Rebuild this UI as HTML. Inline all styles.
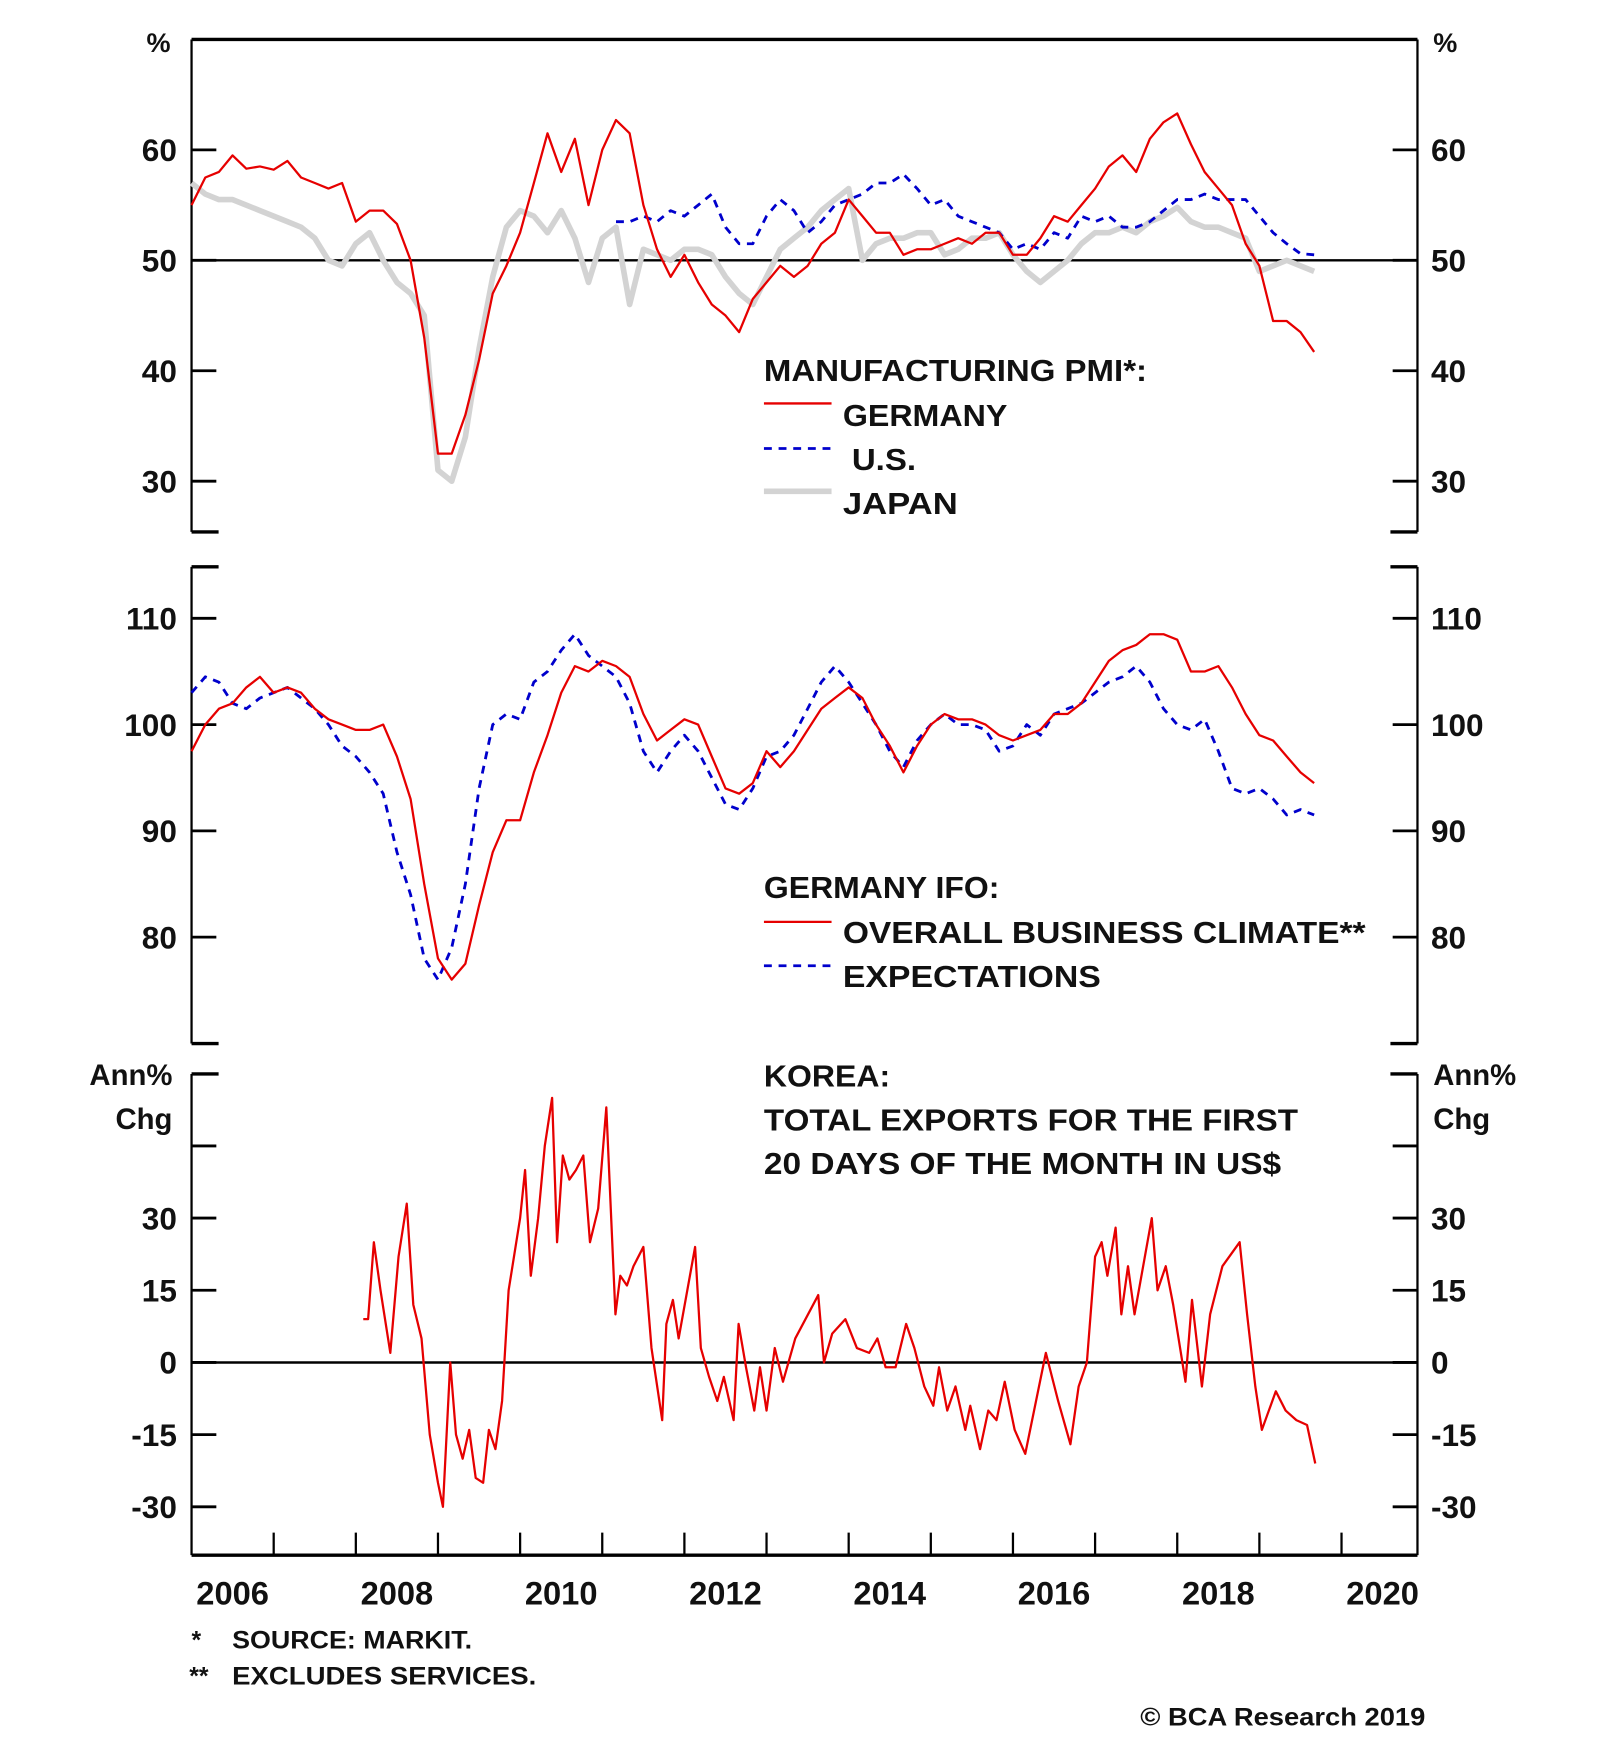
<!DOCTYPE html>
<html><head><meta charset="utf-8"><style>
html,body{margin:0;padding:0;background:#fff;}
svg{display:block;}
text{font-family:"Liberation Sans",Arial,sans-serif;font-weight:bold;fill:#111;}
</style></head><body>
<svg id="chart" width="1600" height="1758" viewBox="0 0 1420 1560" preserveAspectRatio="none" xmlns="http://www.w3.org/2000/svg">
<g id="frame" stroke="#000" fill="none">
  <line x1="170" y1="35" x2="1258" y2="35" stroke-width="3"/>
  <line x1="170" y1="35" x2="170" y2="472" stroke-width="2"/>
  <line x1="1258" y1="35" x2="1258" y2="472" stroke-width="2"/>
  <line x1="170" y1="472" x2="194" y2="472" stroke-width="3"/>
  <line x1="1234" y1="472" x2="1258" y2="472" stroke-width="3"/>
  <line x1="170" y1="503" x2="194" y2="503" stroke-width="3"/>
  <line x1="1234" y1="503" x2="1258" y2="503" stroke-width="3"/>
  <line x1="170" y1="503" x2="170" y2="926" stroke-width="2"/>
  <line x1="1258" y1="503" x2="1258" y2="926" stroke-width="2"/>
  <line x1="170" y1="926" x2="194" y2="926" stroke-width="3"/>
  <line x1="1234" y1="926" x2="1258" y2="926" stroke-width="3"/>
  <line x1="170" y1="953" x2="194" y2="953" stroke-width="3"/>
  <line x1="1234" y1="953" x2="1258" y2="953" stroke-width="3"/>
  <line x1="170" y1="953" x2="170" y2="1380" stroke-width="2"/>
  <line x1="1258" y1="953" x2="1258" y2="1380" stroke-width="2"/>
  <line x1="170" y1="1380" x2="1258" y2="1380" stroke-width="3"/>
</g>
<g id="axes"></g>
<g id="series"></g>

<text x="130" y="46" font-size="24">%</text>
<text x="1272" y="46" font-size="24">%</text>
<text x="153" y="963" font-size="26" text-anchor="end">Ann%</text>
<text x="153" y="1002" font-size="26" text-anchor="end">Chg</text>
<text x="1272" y="963" font-size="26">Ann%</text>
<text x="1272" y="1002" font-size="26">Chg</text>

<g font-size="27">
  <text x="678" y="338" textLength="340" lengthAdjust="spacingAndGlyphs">MANUFACTURING PMI*:</text>
  <line x1="678" y1="358" x2="738" y2="358" stroke="#e60000" stroke-width="2"/>
  <text x="748" y="378" textLength="146" lengthAdjust="spacingAndGlyphs">GERMANY</text>
  <line x1="678" y1="398" x2="738" y2="398" stroke="#0000cc" stroke-width="2.5" stroke-dasharray="7,6"/>
  <text x="756" y="417" textLength="57" lengthAdjust="spacingAndGlyphs">U.S.</text>
  <line x1="678" y1="436" x2="738" y2="436" stroke="#d3d3d3" stroke-width="5"/>
  <text x="748" y="456" textLength="102" lengthAdjust="spacingAndGlyphs">JAPAN</text>
</g>
<g font-size="27">
  <text x="678" y="797" textLength="209" lengthAdjust="spacingAndGlyphs">GERMANY IFO:</text>
  <line x1="678" y1="818" x2="738" y2="818" stroke="#e60000" stroke-width="2"/>
  <text x="748" y="837" textLength="464" lengthAdjust="spacingAndGlyphs">OVERALL BUSINESS CLIMATE**</text>
  <line x1="678" y1="857" x2="738" y2="857" stroke="#0000cc" stroke-width="2.5" stroke-dasharray="7,6"/>
  <text x="748" y="876" textLength="229" lengthAdjust="spacingAndGlyphs">EXPECTATIONS</text>
</g>
<g font-size="27">
  <text x="678" y="964" textLength="112" lengthAdjust="spacingAndGlyphs">KOREA:</text>
  <text x="678" y="1003" textLength="474" lengthAdjust="spacingAndGlyphs">TOTAL EXPORTS FOR THE FIRST</text>
  <text x="678" y="1042" textLength="459" lengthAdjust="spacingAndGlyphs">20 DAYS OF THE MONTH IN US$</text>
</g>
<g font-size="22">
  <text x="170" y="1463">*</text>
  <text x="206" y="1463" textLength="213" lengthAdjust="spacingAndGlyphs">SOURCE: MARKIT.</text>
  <text x="168" y="1495">**</text>
  <text x="206" y="1495" textLength="270" lengthAdjust="spacingAndGlyphs">EXCLUDES SERVICES.</text>
  <text x="1265" y="1531" text-anchor="end" textLength="253" lengthAdjust="spacingAndGlyphs">© BCA Research 2019</text>
</g>
</svg>
<script>
const ns="http://www.w3.org/2000/svg";
const yearLabels=[2006,2008,2010,2012,2014,2016,2018,2020];
const pmiTicks=[60,50,40,30];
const ifoTicks=[110,100,90,80];
const expTicks=[30,15,0,-15,-30];
const expExtraTicks=[45];

const germanyPmi=[55,57.5,58,59.5,58.3,58.5,58.2,59,57.5,57,56.5,57,53.5,54.5,54.5,53.3,50,43,32.5,32.5,36,41,47,49.5,52.5,57,61.5,58,61,55,60,62.7,61.5,55,51,48.5,50.5,48,46,45,43.5,46.5,48,49.5,48.5,49.5,51.5,52.5,55.5,54,52.5,52.5,50.5,51,51,51.5,52,51.5,52.5,52.5,50.5,50.5,52,54,53.5,55,56.5,58.5,59.5,58,61,62.5,63.3,60.5,58,56.5,55,51.5,49.5,44.5,44.5,43.5,41.7];
const japanPmi=[57,56,55.5,55.5,55,54.5,54,53.5,53,52,50,49.5,51.5,52.5,50,48,47,45,31,30,34,42,48.5,53,54.5,54,52.5,54.5,52,48,52,53,46,51,50.5,50,51,51,50.5,48.5,47,46,48.5,51,52,53,54.5,55.5,56.5,50,51.5,52,52,52.5,52.5,50.5,51,52,52,52.5,50.5,49,48,49,50,51.5,52.5,52.5,53,52.5,53.5,54,54.8,53.5,53,53,52.5,52,49,49.5,50,49.5,49];
const usPmi=[53.5,53.5,54,53.5,54.5,54,55,56,53,51.5,51.5,54,55.5,54.5,52.5,53.5,55,55.5,56,57,57,57.8,56.5,55,55.5,54,53.5,53,52.5,51,51.5,51,52.5,52,54,53.5,54,53,53,53.5,54.5,55.5,55.5,56,55.5,55.5,55.5,54,52.5,51.5,50.6,50.5];
const pmiDates=[];for(let i=0;i<germanyPmi.length;i++)pmiDates.push(2006+i/6);
const usDates=[];for(let i=0;i<usPmi.length;i++)usDates.push(2006+(germanyPmi.length-usPmi.length+i)/6);

const ifoClimate=[97.5,100,101.5,102,103.5,104.5,103,103.5,103,101.5,100.5,100,99.5,99.5,100,97,93,85,78,76,77.5,83,88,91,91,95.5,99,103,105.5,105,106,105.5,104.5,101,98.5,99.5,100.5,100,97,94,93.5,94.5,97.5,96,97.5,99.5,101.5,102.5,103.5,102.5,100,98,95.5,98,100,101,100.5,100.5,100,99,98.5,99,99.5,101,101,102,104,106,107,107.5,108.5,108.5,108,105,105,105.5,103.5,101,99,98.5,97,95.5,94.5];
const ifoExpect=[103,104.5,104,102,101.5,102.5,103,103.5,102.5,101.5,100,98,97,95.5,93.5,88,84,78,76,79,85,94,100,101,100.5,104,105,107,108.5,106.5,105.5,104.5,102,97.5,95.5,97.5,99,97.5,95,92.5,92,94,97,97.5,99,101.5,104,105.5,104,102,100,97.5,96,98.5,100,101,100,100,99.5,97.5,98,100,99,101,101.5,102,103,104,104.5,105.5,104,101.5,100,99.5,100.5,97.5,94,93.5,94,93,91.5,92,91.5];
const ifoDates=[];for(let i=0;i<ifoClimate.length;i++)ifoDates.push(2006+i/6);

const koreaDates=[2008.09,2008.15,2008.22,2008.3,2008.42,2008.52,2008.62,2008.7,2008.8,2008.9,2009.0,2009.06,2009.15,2009.22,2009.3,2009.38,2009.46,2009.55,2009.62,2009.7,2009.78,2009.86,2010.0,2010.06,2010.13,2010.22,2010.3,2010.39,2010.45,2010.52,2010.6,2010.68,2010.77,2010.85,2010.95,2011.05,2011.16,2011.22,2011.3,2011.38,2011.5,2011.6,2011.73,2011.78,2011.86,2011.93,2012.13,2012.2,2012.3,2012.4,2012.48,2012.6,2012.66,2012.75,2012.85,2012.92,2013.0,2013.1,2013.2,2013.35,2013.63,2013.7,2013.8,2013.96,2014.1,2014.25,2014.35,2014.45,2014.57,2014.7,2014.8,2014.92,2015.03,2015.1,2015.2,2015.3,2015.42,2015.48,2015.6,2015.7,2015.8,2015.9,2016.02,2016.15,2016.4,2016.55,2016.7,2016.8,2016.9,2017.0,2017.08,2017.15,2017.25,2017.32,2017.4,2017.48,2017.69,2017.76,2017.86,2017.95,2018.1,2018.18,2018.3,2018.4,2018.55,2018.76,2018.85,2018.95,2019.03,2019.2,2019.32,2019.45,2019.58,2019.68];
const koreaExports=[9,9,25,15,2,22,33,12,5,-15,-25,-30,0,-15,-20,-14,-24,-25,-14,-18,-8,15,30,40,18,30,45,55,25,43,38,40,43,25,32,53,10,18,16,20,24,3,-12,8,13,5,24,3,-3,-8,-3,-12,8,-1,-10,-1,-10,3,-4,5,14,0,6,9,3,2,5,-1,-1,8,3,-5,-9,-1,-10,-5,-14,-9,-18,-10,-12,-4,-14,-19,2,-8,-17,-5,0,22,25,18,28,10,20,10,30,15,20,12,-4,13,-5,10,20,25,10,-5,-14,-6,-10,-12,-13,-21];

const X0=170,PX=72.9;
function xs(t){return X0+(t-2006)*PX;}
function yPmi(v){return 231-(v-50)*9.8;}
function yIfo(v){return 643-(v-100)*9.43;}
function yExp(v){return 1209-v*4.27;}

const axes=document.getElementById('axes');
const series=document.getElementById('series');
function mk(tag,attrs,parent){const e=document.createElementNS(ns,tag);for(const k in attrs)e.setAttribute(k,attrs[k]);parent.appendChild(e);return e;}

function tickSet(vals,yf,prefix){
  vals.forEach(v=>{
    const y=yf(v);
    const l=mk('line',{x1:170,y1:y,x2:192,y2:y,stroke:'#000','stroke-width':2.5},axes);
    
    
    const r=mk('line',{x1:1236,y1:y,x2:1258,y2:y,stroke:'#000','stroke-width':2.5},axes);
    
    
    const tl=mk('text',{x:157,y:y+10,'font-size':28,'text-anchor':'end'},axes);
    tl.textContent=v;
    
    
    const tr=mk('text',{x:1270,y:y+10,'font-size':28},axes);
    tr.textContent=v;
    
    
  });
}
tickSet(pmiTicks,yPmi,'pmi-axis');
tickSet(ifoTicks,yIfo,'ifo-axis');
tickSet(expTicks,yExp,'exports-axis');
expExtraTicks.forEach(v=>{
  const y=yExp(v);
  const l=mk('line',{x1:170,y1:y,x2:192,y2:y,stroke:'#000','stroke-width':2.5},axes);
  
  
  const r=mk('line',{x1:1236,y1:y,x2:1258,y2:y,stroke:'#000','stroke-width':2.5},axes);
  
  
});
const r1=mk('line',{x1:170,y1:yPmi(50),x2:1258,y2:yPmi(50),stroke:'#000','stroke-width':2.2},axes);


const r3=mk('line',{x1:170,y1:yExp(0),x2:1258,y2:yExp(0),stroke:'#000','stroke-width':2.2},axes);


for(let yr=2007;yr<=2020;yr++){
  const x=xs(yr);
  const t=mk('line',{x1:x,y1:1360,x2:x,y2:1380,stroke:'#000','stroke-width':2},axes);
  
  
}
yearLabels.forEach(yr=>{
  const t=mk('text',{x:xs(yr+0.5),y:1424,'font-size':29,'text-anchor':'middle'},axes);
  t.textContent=yr;
  
  
});

function line(dates,vals,yf,attrs,name){
  const n=Math.min(dates.length,vals.length);
  let d='';
  for(let i=0;i<n;i++)d+=(i?'L':'M')+xs(dates[i]).toFixed(1)+','+yf(vals[i]).toFixed(1);
  const p=mk('path',Object.assign({d:d,fill:'none','stroke-linejoin':'round'},attrs),series);
  
  
}
line(pmiDates,japanPmi,yPmi,{stroke:'#d3d3d3','stroke-width':5},'japan-pmi-line');
line(usDates,usPmi,yPmi,{stroke:'#0000cc','stroke-width':2.5,'stroke-dasharray':'7,6'},'us-pmi-line');
line(pmiDates,germanyPmi,yPmi,{stroke:'#e60000','stroke-width':2},'germany-pmi-line');
line(ifoDates,ifoExpect,yIfo,{stroke:'#0000cc','stroke-width':2.5,'stroke-dasharray':'7,6'},'ifo-expectations-line');
line(ifoDates,ifoClimate,yIfo,{stroke:'#e60000','stroke-width':2},'ifo-climate-line');
line(koreaDates,koreaExports,yExp,{stroke:'#e60000','stroke-width':2},'korea-exports-line');
</script>
</body></html>
